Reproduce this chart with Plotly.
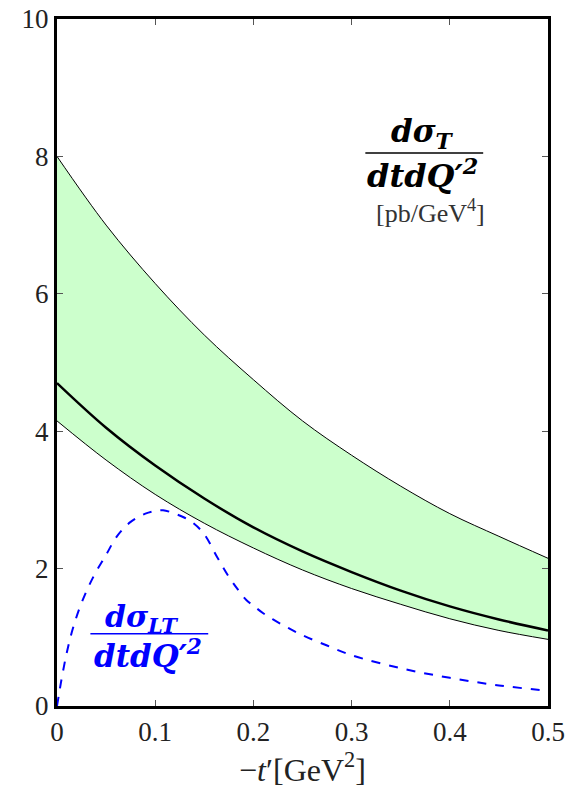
import plotly.graph_objects as go

# ---- data ----
x_band = [0.0, 0.05, 0.1, 0.15, 0.2, 0.25, 0.3, 0.35, 0.4, 0.45, 0.5]
y_upper = [8.0, 7.0, 6.15, 5.4, 4.75, 4.15, 3.65, 3.2, 2.8, 2.47, 2.15]
y_mid = [4.7, 4.05, 3.5, 3.02, 2.6, 2.25, 1.95, 1.68, 1.45, 1.26, 1.1]
y_lower = [4.15, 3.58, 3.08, 2.66, 2.3, 1.98, 1.71, 1.48, 1.27, 1.1, 0.97]

x_lt = [0, 0.002, 0.004, 0.007, 0.01, 0.016, 0.025, 0.037, 0.05, 0.061, 0.075, 0.09, 0.1,
        0.108, 0.12, 0.13, 0.139, 0.15, 0.163, 0.175, 0.185, 0.193, 0.2, 0.21, 0.22,
        0.235, 0.25, 0.275, 0.3, 0.35, 0.4, 0.45, 0.5]
y_lt = [0, 0.17, 0.34, 0.57, 0.78, 1.12, 1.5, 1.88, 2.2, 2.47, 2.68, 2.8, 2.84,
        2.85, 2.8, 2.74, 2.66, 2.5, 2.17, 1.88, 1.68, 1.54, 1.46, 1.35, 1.26,
        1.14, 1.03, 0.88, 0.74, 0.55, 0.41, 0.3, 0.22]

x_ticks = [0, 0.1, 0.2, 0.3, 0.4, 0.5]
x_ticklabels = ["0", "0.1", "0.2", "0.3", "0.4", "0.5"]
y_ticks = [0, 2, 4, 6, 8, 10]
y_ticklabels = ["0", "2", "4", "6", "8", "10"]

SERIF = "Liberation Serif"
MATH = "DejaVu Serif"

fig = go.Figure()
fig.add_trace(go.Scatter(x=x_band, y=y_lower, mode="lines", line=dict(color="black", width=1, shape="spline"),
                         showlegend=False, hoverinfo="skip"))
fig.add_trace(go.Scatter(x=x_band, y=y_upper, mode="lines", line=dict(color="black", width=1, shape="spline"),
                         fill="tonexty", fillcolor="#ccffcc", showlegend=False, hoverinfo="skip"))
fig.add_trace(go.Scatter(x=x_band, y=y_mid, mode="lines", line=dict(color="black", width=2.5, shape="spline"),
                         showlegend=False))
fig.add_trace(go.Scatter(x=x_lt, y=y_lt, mode="lines",
                         line=dict(color="#0000ff", width=2, dash="dash", shape="spline"),
                         showlegend=False))

# annotations: black fraction
fig.add_annotation(x=0.372, y=8.33, text="<b><i>dσ<sub>T</sub></i></b>", showarrow=False,
                   font=dict(family=MATH, size=31, color="black"), yanchor="middle")
fig.add_shape(type="line", x0=0.314, x1=0.434, y0=8.05, y1=8.05, line=dict(color="black", width=1.5))
fig.add_annotation(x=0.372, y=7.75, text="<b><i>dtdQ′<sup>2</sup></i></b>", showarrow=False,
                   font=dict(family=MATH, size=32, color="black"), yanchor="middle")
fig.add_annotation(x=0.38, y=7.2, text="[pb/GeV<sup>4</sup>]", showarrow=False,
                   font=dict(family=SERIF, size=26, color="#333333"), yanchor="middle")

# blue fraction
fig.add_annotation(x=0.086, y=1.28, text="<b><i>dσ<sub>LT</sub></i></b>", showarrow=False,
                   font=dict(family=MATH, size=30, color="#0000ff"), yanchor="middle")
fig.add_shape(type="line", x0=0.034, x1=0.154, y0=1.05, y1=1.05, line=dict(color="#0000ff", width=1.5))
fig.add_annotation(x=0.093, y=0.75, text="<b><i>dtdQ′<sup>2</sup></i></b>", showarrow=False,
                   font=dict(family=MATH, size=31, color="#0000ff"), yanchor="middle")

fig.update_layout(
    width=569, height=794,
    margin=dict(l=57, r=21, t=19, b=88),
    plot_bgcolor="white", paper_bgcolor="white",
    font=dict(family=SERIF, size=27, color="#222222"),
)
fig.update_xaxes(range=[0, 0.5], tickvals=x_ticks, ticktext=x_ticklabels, automargin=False,
                 ticks="inside", ticklen=6, tickcolor="#555555", mirror="allticks",
                 ticklabeloverflow="allow",
                 showline=True, linecolor="black", linewidth=3, showgrid=False, zeroline=False,
                 tickfont=dict(family=SERIF, size=27),
                 title=dict(text="−<i>t</i>′[GeV<sup>2</sup>]", font=dict(family=SERIF, size=32), standoff=8))
fig.update_yaxes(range=[0, 10], tickvals=y_ticks, ticktext=y_ticklabels, automargin=False,
                 ticks="inside", ticklen=6, tickcolor="#555555", mirror="allticks",
                 ticklabeloverflow="allow",
                 showline=True, linecolor="black", linewidth=3, showgrid=False, zeroline=False,
                 tickfont=dict(family=SERIF, size=27))

# remove the default page margin so the 569x794 figure fills the window exactly
fig.write_html("out.html", config={"displayModeBar": False},
               post_script="document.body.style.margin='0';document.body.style.overflow='hidden';")
